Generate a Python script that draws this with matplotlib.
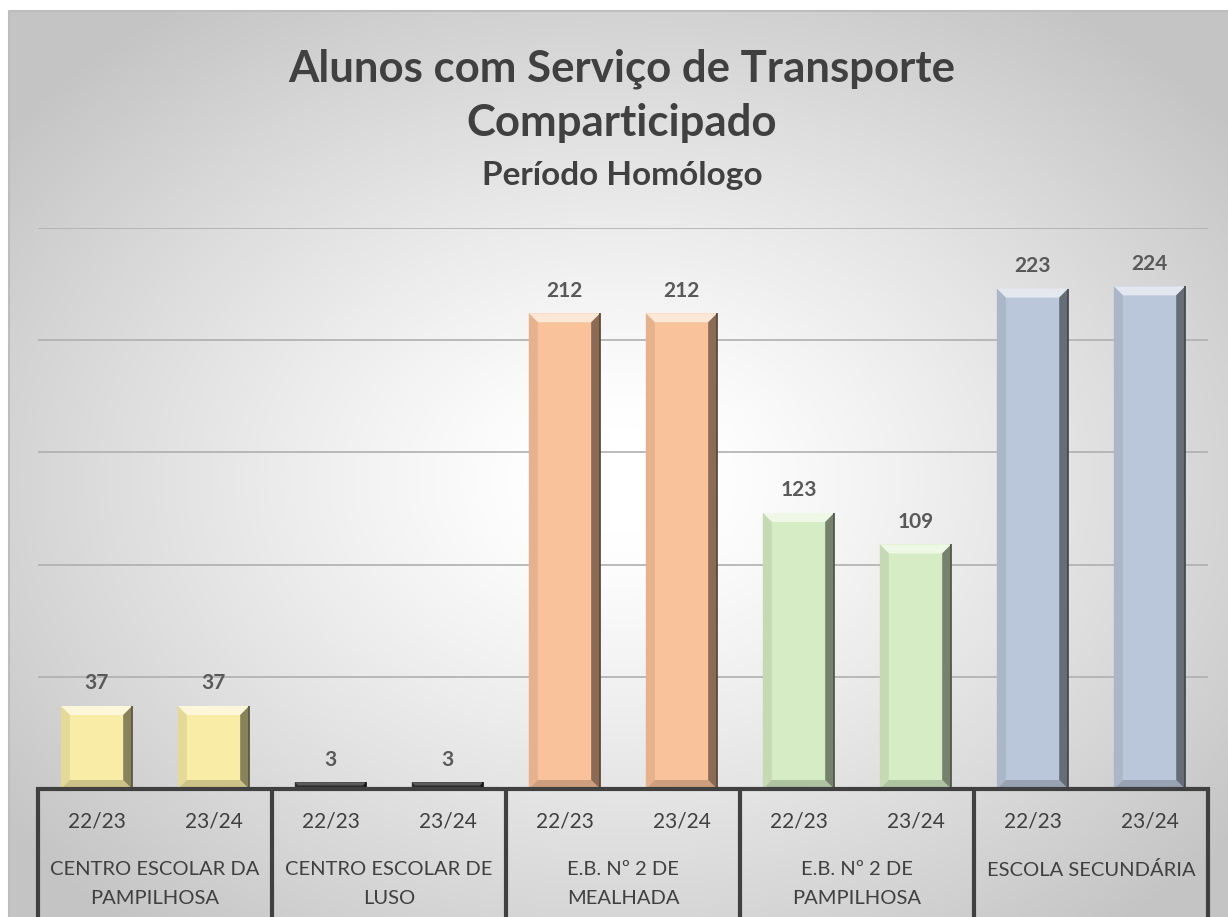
import numpy as np
import matplotlib
matplotlib.use("Agg")
import matplotlib.pyplot as plt
from matplotlib.patches import Polygon
from matplotlib.colors import to_rgb
import matplotlib.transforms as mtransforms

# ---------------- data ----------------
schools = ["CENTRO ESCOLAR DA\nPAMPILHOSA", "CENTRO ESCOLAR DE\nLUSO",
           "E.B. Nº 2 DE\nMEALHADA", "E.B. Nº 2 DE\nPAMPILHOSA",
           "ESCOLA SECUNDÁRIA"]
periods = ["22/23", "23/24"]
values_2223 = [37, 3, 212, 123, 223]
values_2324 = [37, 3, 212, 109, 224]
school_colors = ["#F8ECA6", "#333333", "#FAC29A", "#D6ECC4", "#BAC6D9"]

title_line1 = "Alunos com Serviço de Transporte"
title_line2 = "Comparticipado"
subtitle = "Período Homólogo"

FONT = "Lato"
TXT = "#404040"

W, H = 1228, 917
fig = plt.figure(figsize=(W / 100, H / 100), dpi=100)
fig.patch.set_facecolor("white")

# ---------------- background (radial gradient chart area) ----------------
bg = fig.add_axes([9 / W, 0, 1 - 9 / W, 1 - 11 / H])
ny, nx = 300, 400
yy, xx = np.mgrid[0:ny, 0:nx]
u = xx / (nx - 1)
v = yy / (ny - 1)
cx, cy = (622 - 9) / (W - 9), (480 - 11) / (H - 11)
r = np.sqrt(((u - cx) / 0.64) ** 2 + ((v - cy) / 0.64) ** 2)
val = 1 - 0.23 * np.clip((r - 0.1) / 0.9, 0, 1) ** 1.15
img = np.dstack([val, val, val])
bg.imshow(img, aspect="auto", extent=[0, 1, 0, 1], origin="upper", interpolation="bicubic")
bg.set_xlim(0, 1)
bg.set_ylim(0, 1)
bg.axis("off")
bg.plot([0, 0, 1], [0, 1, 1], color="#BDBDBD", lw=1.5, clip_on=False)

# ---------------- main axes ----------------
x0px, x1px, basepx, toppx = 38, 1208, 789, 228
ax = fig.add_axes([x0px / W, 1 - basepx / H, (x1px - x0px) / W, (basepx - toppx) / H])
ax.set_facecolor("none")
ax.set_xlim(-0.5, 2 * len(schools) - 0.5)
ax.set_ylim(0, 250)
ax.set_yticks([50, 100, 150, 200, 250])
ax.set_yticklabels([])
ax.set_xticks([])
ax.tick_params(left=False, bottom=False)
ax.grid(axis="y", color="#AFAFAF", lw=1.2)
ax.set_axisbelow(True)
for s in ["top", "right", "left"]:
    ax.spines[s].set_visible(False)
ax.spines["bottom"].set_color(TXT)
ax.spines["bottom"].set_linewidth(3)
ax.spines["bottom"].set_zorder(5)

heights = []
cols = []
for i in range(len(schools)):
    heights += [values_2223[i], values_2324[i]]
    cols += [school_colors[i]] * 2
xpos = np.arange(len(heights))
bars = ax.bar(xpos, heights, width=0.61, color=cols, zorder=2, linewidth=0)


def shade(c, f):
    c = np.array(to_rgb(c))
    if f >= 0:
        return tuple(c + (1 - c) * f)
    return tuple(c * (1 + f))


# pixel -> data scales
px_x = (x1px - x0px) / 10.0
px_y = (basepx - toppx) / 250.0
bev_px = 9
for b, c in zip(bars, cols):
    bx0, bw, bh = b.get_x(), b.get_width(), b.get_height()
    bx1 = bx0 + bw
    dx = bev_px / px_x
    dy = min(bev_px / px_y, bh / 2)
    dxe = min(dx, dy * px_y / px_x)
    dark = c == "#333333"
    top = Polygon([(bx0, bh), (bx1, bh), (bx1 - dxe, bh - dy), (bx0 + dxe, bh - dy)],
                  closed=True, fc=shade(c, 0.2 if dark else 0.6), lw=0, zorder=3)
    right = Polygon([(bx1, bh), (bx1, 0), (bx1 - dxe, dy), (bx1 - dxe, bh - dy)],
                    closed=True, fc=shade(c, -0.45), lw=0, zorder=3)
    left = Polygon([(bx0, bh), (bx0, 0), (bx0 + dxe, dy), (bx0 + dxe, bh - dy)],
                   closed=True, fc=shade(c, -0.08), lw=0, zorder=3)
    bot = Polygon([(bx0, 0), (bx1, 0), (bx1 - dxe, dy), (bx0 + dxe, dy)],
                  closed=True, fc=shade(c, -0.18), lw=0, zorder=3)
    for p in (top, left, bot, right):
        ax.add_patch(p)
    ax.plot([bx1, bx1], [0, bh], color=shade(c, -0.65), lw=1.2, zorder=4, solid_capstyle="butt")
    ax.annotate(f"{int(bh)}", (b.get_x() + bw / 2, bh), xytext=(0, 9),
                textcoords="offset points", ha="center", va="bottom",
                fontsize=15, fontweight="bold", color="#595959", family=FONT)

# ---------------- multi-level category axis ----------------
trans = mtransforms.blended_transform_factory(ax.transData, ax.transAxes)
ax_h = basepx - toppx
y_period = -(822 - basepx) / ax_h
y_school = -(861 - basepx) / ax_h
y_bottom = -(917 - basepx) / ax_h
for k, x in enumerate(xpos):
    ax.text(x, y_period, periods[k % 2], transform=trans, ha="center", va="center",
            fontsize=15, color=TXT, family=FONT)
for i, s in enumerate(schools):
    ax.text(2 * i + 0.5, y_school, s, transform=trans, ha="center", va="top",
            fontsize=14.5, color=TXT, family=FONT, linespacing=1.85)
for i in range(len(schools) + 1):
    xs = 2 * i - 0.5
    ax.plot([xs, xs], [0, y_bottom], transform=trans, color=TXT, lw=3,
            clip_on=False, zorder=5, solid_capstyle="butt")

# ---------------- titles ----------------
fig.text(622 / W, 1 - 69 / H, title_line1, ha="center", va="center", fontsize=31.5,
         fontweight="bold", color=TXT, family=FONT)
fig.text(622 / W, 1 - 123 / H, title_line2, ha="center", va="center", fontsize=31.5,
         fontweight="bold", color=TXT, family=FONT)
fig.text(622 / W, 1 - 176 / H, subtitle, ha="center", va="center", fontsize=24,
         fontweight="bold", color=TXT, family=FONT)

fig.savefig("out.png", dpi=100, facecolor=fig.get_facecolor())
